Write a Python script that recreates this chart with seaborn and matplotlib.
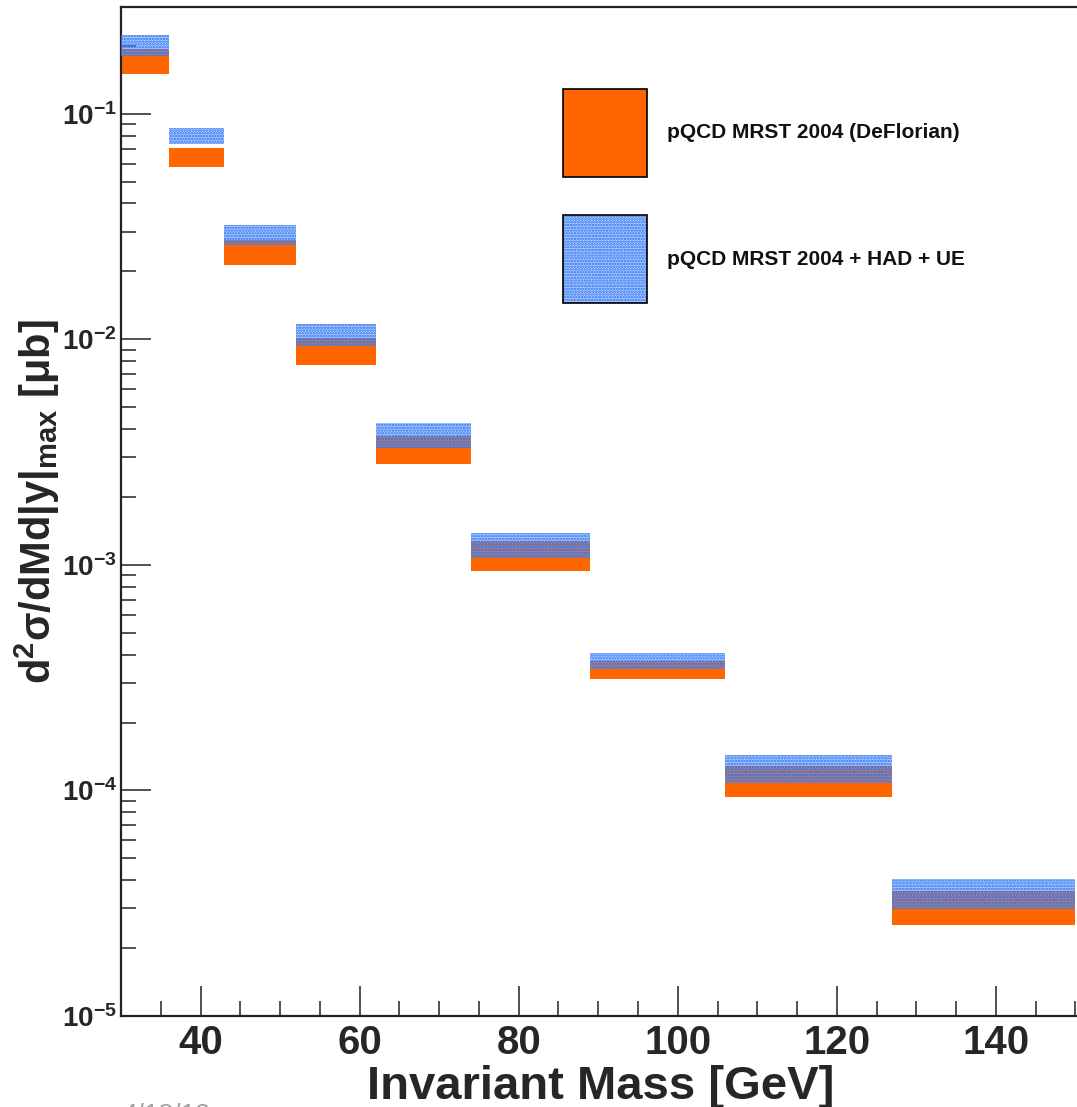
import numpy as np
import matplotlib
matplotlib.use("Agg")
import matplotlib.pyplot as plt
from matplotlib.patches import Rectangle
from matplotlib.ticker import FixedLocator, FixedFormatter, LogLocator, NullFormatter, MultipleLocator
import seaborn as sns

# Invariant-mass bins [GeV]
bin_edges = [30, 36, 43, 52, 62, 74, 89, 106, 127, 150]

# pQCD MRST 2004 (DeFlorian) uncertainty band [ub]
pqcd_low = [0.150, 0.0582, 0.0214, 0.00771, 0.00280, 9.40e-4, 3.12e-4, 9.33e-5, 2.52e-5]
pqcd_high = [0.194, 0.0706, 0.0274, 0.01012, 0.00374, 1.27e-3, 3.76e-4, 1.288e-4, 3.60e-5]

# pQCD MRST 2004 + hadronisation + underlying event band [ub]
had_low = [0.181, 0.0736, 0.0262, 0.00929, 0.00329, 1.07e-3, 3.45e-4, 1.076e-4, 2.98e-5]
had_high = [0.224, 0.0867, 0.0320, 0.01166, 0.00425, 1.39e-3, 4.06e-4, 1.435e-4, 4.06e-5]

legend_labels = ["pQCD MRST 2004 (DeFlorian)", "pQCD MRST 2004 + HAD + UE"]
x_ticks = [40, 60, 80, 100, 120, 140]
y_ticks = [1e-5, 1e-4, 1e-3, 1e-2, 1e-1]
y_tick_labels = [r"$\mathbf{10^{-5}}$", r"$\mathbf{10^{-4}}$", r"$\mathbf{10^{-3}}$",
                 r"$\mathbf{10^{-2}}$", r"$\mathbf{10^{-1}}$"]

ORANGE = "#ff6600"
BLUE_FACE = (0.38, 0.62, 1.0, 0.50)
BLUE_DOT = "#2a6cf0"

sns.set_theme(style="white")
plt.rcParams["font.family"] = ["Liberation Sans", "DejaVu Sans"]
plt.rcParams["font.weight"] = "bold"
plt.rcParams["mathtext.fontset"] = "custom"
plt.rcParams["mathtext.rm"] = "Liberation Sans:bold"
plt.rcParams["mathtext.bf"] = "Liberation Sans:bold"
plt.rcParams["mathtext.it"] = "Liberation Sans:bold:italic"
plt.rcParams["mathtext.sf"] = "Liberation Sans:bold"
plt.rcParams["hatch.linewidth"] = 1.2

W, H = 1077, 1107
fig = plt.figure(figsize=(W / 100, H / 100), dpi=100)
fig.patch.set_facecolor("white")
ax = fig.add_axes([121 / W, (H - 1016) / H, (1077 - 121) / W, (1016 - 7) / H])
ax.set_facecolor("white")

edges = np.asarray(bin_edges, dtype=float)
lefts = edges[:-1]
widths = np.diff(edges)
p_lo, p_hi = np.asarray(pqcd_low), np.asarray(pqcd_high)
h_lo, h_hi = np.asarray(had_low), np.asarray(had_high)

ax.set_yscale("log")
ax.bar(lefts, p_hi - p_lo, width=widths, bottom=p_lo, align="edge",
       color=ORANGE, linewidth=0, zorder=2)
ax.bar(lefts, h_hi - h_lo, width=widths, bottom=h_lo, align="edge",
       facecolor=BLUE_FACE, edgecolor=BLUE_DOT, hatch="......", linewidth=0, zorder=3)

ax.set_xlim(30, 150.2)
ax.set_ylim(1e-5, 0.297)

# ROOT-style inward ticks
ax.xaxis.set_major_locator(FixedLocator(x_ticks))
ax.xaxis.set_minor_locator(MultipleLocator(5))
ax.yaxis.set_major_locator(FixedLocator(y_ticks))
ax.yaxis.set_major_formatter(FixedFormatter(y_tick_labels))
ax.yaxis.set_minor_locator(LogLocator(base=10, subs=np.arange(2, 10)))
ax.yaxis.set_minor_formatter(NullFormatter())
ax.tick_params(axis="both", which="major", direction="in", length=21.5, width=1.1,
               color="#222222", bottom=True, left=True, top=False, right=False)
ax.tick_params(axis="both", which="minor", direction="in", length=11, width=1.1,
               color="#222222", bottom=True, left=True, top=False, right=False)
ax.tick_params(axis="x", which="major", labelsize=29, pad=6)
ax.tick_params(axis="y", which="major", labelsize=20, pad=3)
for lab in ax.get_xticklabels():
    lab.set_fontweight("bold")

for side in ["left", "bottom", "top"]:
    ax.spines[side].set_color("#222222")
    ax.spines[side].set_linewidth(1.6)
ax.spines["right"].set_visible(False)

ax.set_xlabel("Invariant Mass [GeV]", fontsize=34, fontweight="bold", va="baseline")
ax.xaxis.set_label_coords(0.502, -0.0825)
ax.set_ylabel("d$^{\\mathbf{2}}$σ/dMd|y|$_{\\mathbf{max}}$ [μb]", fontsize=30,
              fontweight="bold", va="bottom")
ax.yaxis.set_label_coords(-0.062, 0.51)

# Legend boxes with labels
box_w, box_h = 84 / W, 88 / H
for top_px, label, hatched in [(89, legend_labels[0], False), (215, legend_labels[1], True)]:
    y0 = (H - top_px) / H - box_h
    if hatched:
        fill = Rectangle((563 / W, y0), box_w, box_h, transform=fig.transFigure,
                         facecolor=BLUE_FACE, edgecolor=BLUE_DOT, hatch="......", linewidth=0)
    else:
        fill = Rectangle((563 / W, y0), box_w, box_h, transform=fig.transFigure,
                         facecolor=ORANGE, linewidth=0)
    outline = Rectangle((563 / W, y0), box_w, box_h, transform=fig.transFigure,
                        facecolor="none", edgecolor="black", linewidth=1.2)
    fig.patches.append(fill)
    fig.patches.append(outline)
    fig.text(667 / W, y0 + box_h / 2, label, fontsize=15, fontweight="bold",
             va="center", ha="left", color="#111111")

fig.text(122 / W, (H - 1103) / H, "4/18/12", fontsize=19, fontweight="normal",
         color="#a0a0a0", va="top", ha="left")

fig.savefig("out.png", dpi=100, facecolor="white")
